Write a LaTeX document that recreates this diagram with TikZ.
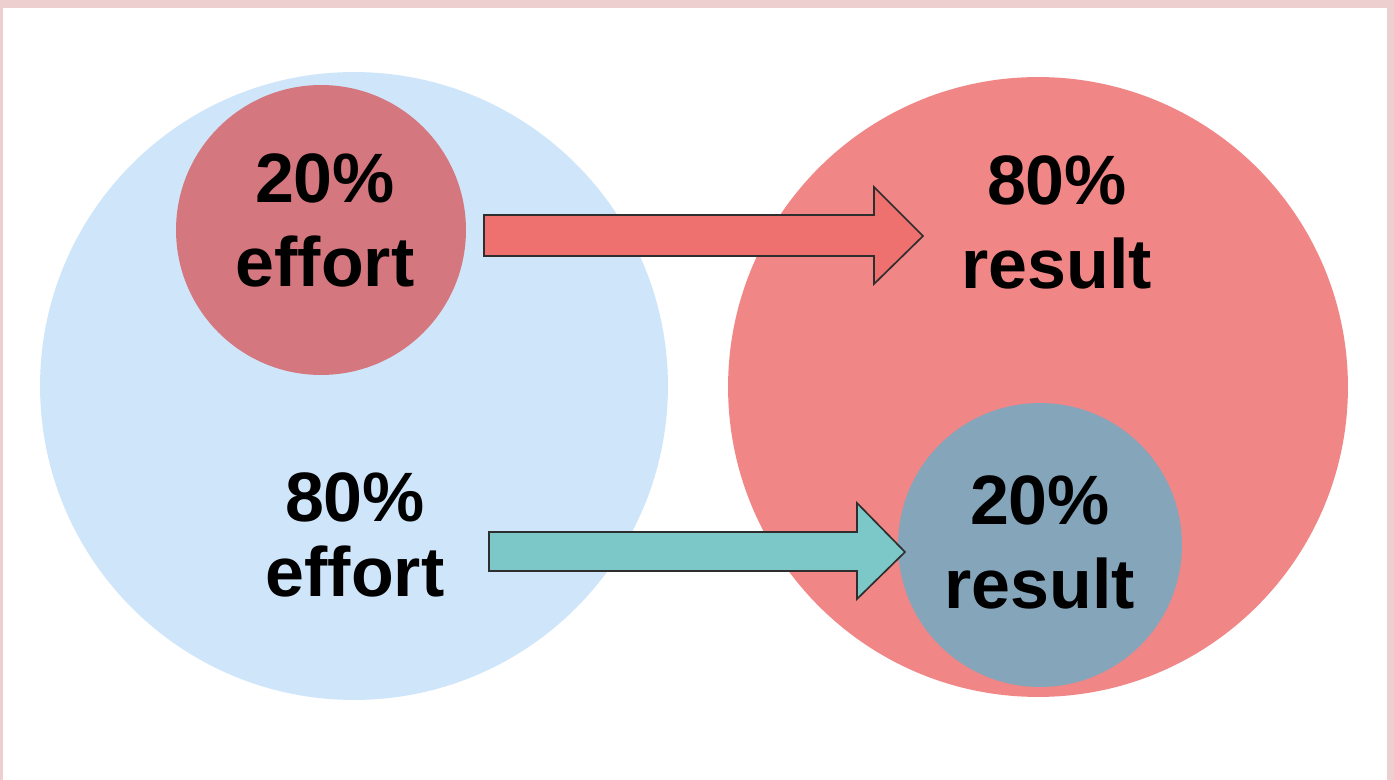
\documentclass[tikz,border=0pt]{standalone}
\usepackage{fontspec}
\setmainfont{Liberation Sans}
\usetikzlibrary{positioning}
\definecolor{framepink}{HTML}{ECCFCE}
\definecolor{effortblue}{HTML}{CFE5FA}
\definecolor{effortred}{HTML}{D5777F}
\definecolor{resultred}{HTML}{F08686}
\definecolor{resultgrey}{HTML}{85A5BB}
\definecolor{arrowred}{HTML}{EE7170}
\definecolor{arrowteal}{HTML}{7CC8C9}
\definecolor{outline}{HTML}{2E2E2E}
\tikzset{
  disc/.style={circle,inner sep=0pt,draw=none},
  share/.style={align=center,inner sep=0pt,font=\bfseries\fontsize{39.8}{47.8}\selectfont},
  blockarrow/.style={draw=outline,line width=.95pt,line join=miter}}

\begin{document}
\begin{tikzpicture}[x=0.02cm,y=-0.02cm]

\fill[framepink] (0,0) rectangle (1394,780);\fill[white] (3,8) rectangle (1387,780);
% effort side and result side
\node[disc,fill=effortblue,minimum size=12.56cm] (allEffort) at (354,386) {};
\node[disc,fill=resultred,minimum size=12.4cm] (allResult) at (1038,387) {};
\node[disc,fill=effortred,minimum size=5.8cm] (fewEffort) at (321,230) {};
\node[disc,fill=resultgrey,minimum size=5.68cm] (fewResult) at (1040,545) {};
% block arrows
\draw[blockarrow,fill=arrowred] (484,215)--(874,215)--(874,187)--(923,236)--(874,284)--(874,256)--(484,256)--cycle;
\draw[blockarrow,fill=arrowteal] (489,532)--(857,532)--(857,503)--(905,552)--(857,599)--(857,571)--(489,571)--cycle;
% labels
\node[share] (fewEffortTxt) at (325,220) {20\%\\effort};
\node[share] (bigResultTxt) at (1057,222) {80\%\\result};
\node[share] (bigEffortTxt) at (355,535) {80\%\\[-5.1pt]effort};
\node[share] (fewResultTxt) at (1040,542) {20\%\\result};
\end{tikzpicture}
\end{document}
